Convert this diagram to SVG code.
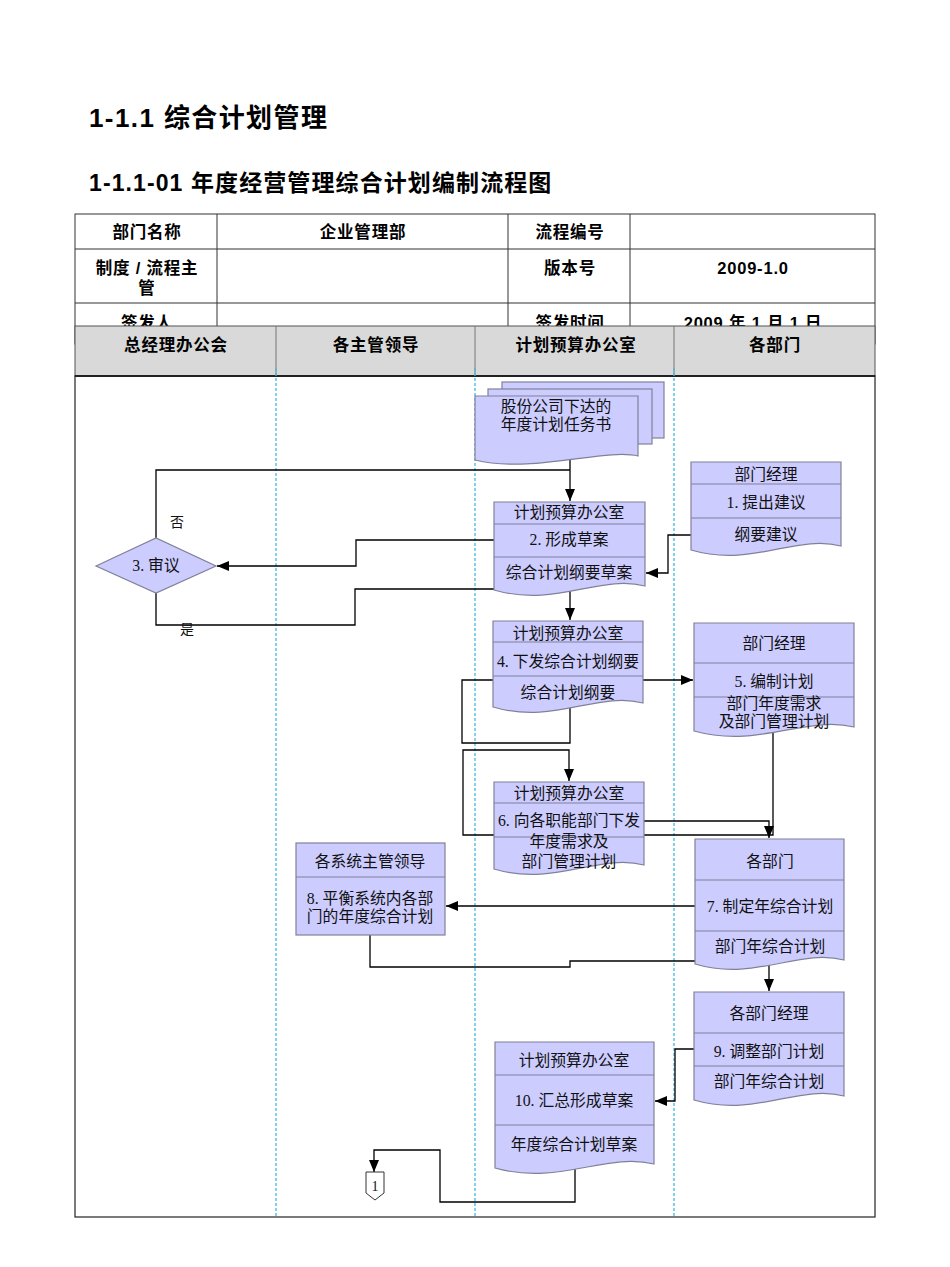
<svg xmlns="http://www.w3.org/2000/svg" width="950" height="1267" viewBox="0 0 950 1267">
<style>
.title{font-family:"Liberation Sans","Noto Sans CJK SC",sans-serif;font-weight:bold;fill:#000}
.tbl{font-family:"Liberation Sans","Noto Sans CJK SC",sans-serif;font-weight:bold;font-size:16.5px;letter-spacing:0.8px;fill:#000;text-anchor:middle}
.cell{fill:#fff;stroke:#333;stroke-width:1}
.box{fill:#ccccff;stroke:#80809a;stroke-width:1.2}
.sep{fill:none;stroke:#80809a;stroke-width:1.2}
.t{font-family:"Liberation Serif","Noto Sans CJK SC",serif;font-size:15.8px;fill:#111;text-anchor:middle}
.lbl{font-family:"Liberation Serif","Noto Sans CJK SC",serif;font-size:14px;fill:#111;text-anchor:middle}
.lane{stroke:#44bbe0;stroke-width:1.3;stroke-dasharray:3 2;fill:none}
.conn{fill:none;stroke:#000;stroke-width:1.3}
.arr{fill:none;stroke:#000;stroke-width:1.3;marker-end:url(#ah)}
</style>
<defs>
<marker id="ah" markerUnits="userSpaceOnUse" markerWidth="12" markerHeight="10" refX="12" refY="5" orient="auto">
<path d="M0,0 L12,5 L0,10 z" fill="#000"/>
</marker>
</defs>
<rect x="0" y="0" width="950" height="1267" fill="#fff"/>

<text class="title" x="89" y="127" font-size="26" letter-spacing="1.4">1-1.1 综合计划管理</text>
<text class="title" x="89" y="191" font-size="23" letter-spacing="1.1">1-1.1-01 年度经营管理综合计划编制流程图</text>

<g id="info-table">
<rect class="cell" x="75" y="214" width="800" height="130"/>
<line x1="75" y1="249" x2="875" y2="249" stroke="#333"/>
<line x1="75" y1="303" x2="875" y2="303" stroke="#333"/>
<line x1="217" y1="214" x2="217" y2="344" stroke="#333"/>
<line x1="508" y1="214" x2="508" y2="344" stroke="#333"/>
<line x1="630" y1="214" x2="630" y2="344" stroke="#333"/>
<text class="tbl" x="147" y="238">部门名称</text>
<text class="tbl" x="363" y="238">企业管理部</text>
<text class="tbl" x="570" y="238">流程编号</text>
<text class="tbl" x="147" y="274">制度 / 流程主</text>
<text class="tbl" x="147" y="294">管</text>
<text class="tbl" x="570" y="274">版本号</text>
<text class="tbl" x="753" y="274">2009-1.0</text>
<text class="tbl" x="147" y="329">签发人</text>
<text class="tbl" x="570" y="329">签发时间</text>
<text class="tbl" x="753" y="329">2009 年 1 月 1 日</text>
</g>

<g id="pool">
<rect x="75" y="326" width="800" height="50" fill="#d9d9d9" stroke="#555" stroke-width="1"/>
<line x1="276" y1="326" x2="276" y2="376" stroke="#777"/>
<line x1="475" y1="326" x2="475" y2="376" stroke="#777"/>
<line x1="674" y1="326" x2="674" y2="376" stroke="#777"/>
<text class="tbl" x="176" y="351">总经理办公会</text>
<text class="tbl" x="376" y="351">各主管领导</text>
<text class="tbl" x="576" y="351">计划预算办公室</text>
<text class="tbl" x="775" y="351">各部门</text>
<rect x="75" y="376" width="800" height="841" fill="none" stroke="#222" stroke-width="1.2"/>
<line x1="75" y1="376" x2="875" y2="376" stroke="#222" stroke-width="2.2"/>
<line class="lane" x1="276" y1="368" x2="276" y2="1216"/>
<line class="lane" x1="475" y1="368" x2="475" y2="1216"/>
<line class="lane" x1="674" y1="368" x2="674" y2="1216"/>
</g>

<g id="connectors">
<path class="arr" d="M570,458 V501"/>
<path class="conn" d="M156,538 V470 H570"/>
<path class="arr" d="M691,535 H668 V573 H646"/>
<path class="arr" d="M494,540 H356 V566 H217"/>
<path class="arr" d="M156,593 V625 H355 V589 H570 V620"/>
<path class="arr" d="M570,708 V743 H462 V680 H693"/>
<path class="arr" d="M773,731 V835 H463 V750 H569 V781"/>
<path class="arr" d="M644,821 H769 V838"/>
<path class="arr" d="M695,906 H446"/>
<path class="arr" d="M370,935 V967 H570 V961 H769 V991"/>
<path class="arr" d="M694,1049 H675 V1101 H655"/>
<path class="arr" d="M575,1166 V1202 H440 V1150 H374 V1172"/>
</g>

<g id="node-doc">
<rect class="box" x="502" y="382" width="162" height="56"/>
<rect class="box" x="488" y="389" width="164" height="55"/>
<path class="box" d="M475,396 H638 V456 C605,448 532,474 475,460 Z"/>
<text class="t" x="556" y="412">股份公司下达的</text>
<text class="t" x="556" y="430">年度计划任务书</text>
</g>

<g id="node-1">
<path class="box" d="M691,462 H841 V546 C796,534 752,568 691,550 Z"/>
<line class="sep" x1="691" y1="484" x2="841" y2="484"/>
<line class="sep" x1="691" y1="518" x2="841" y2="518"/>
<text class="t" x="766" y="480">部门经理</text>
<text class="t" x="766" y="508">1. 提出建议</text>
<text class="t" x="766" y="540">纲要建议</text>
</g>

<g id="node-2">
<path class="box" d="M494,502 H645 V586 C600,574 556,608 494,590 Z"/>
<line class="sep" x1="494" y1="524" x2="645" y2="524"/>
<line class="sep" x1="494" y1="557" x2="645" y2="557"/>
<text class="t" x="569" y="518">计划预算办公室</text>
<text class="t" x="569" y="545">2. 形成草案</text>
<text class="t" x="569" y="578">综合计划纲要草案</text>
</g>

<g id="node-3">
<polygon class="box" points="96,566 156,538 216,566 156,593"/>
<text class="t" x="156" y="571">3. 审议</text>
<text class="lbl" x="177" y="527">否</text>
<text class="lbl" x="187" y="634">是</text>
</g>

<g id="node-4">
<path class="box" d="M493,621 H643 V703 C598,691 554,725 493,707 Z"/>
<line class="sep" x1="493" y1="642" x2="643" y2="642"/>
<line class="sep" x1="493" y1="676" x2="643" y2="676"/>
<text class="t" x="568" y="639">计划预算办公室</text>
<text class="t" x="568" y="667">4. 下发综合计划纲要</text>
<text class="t" x="568" y="698">综合计划纲要</text>
</g>

<g id="node-5">
<path class="box" d="M694,623 H854 V727 C806,715 759,749 694,731 Z"/>
<line class="sep" x1="694" y1="663" x2="854" y2="663"/>
<line class="sep" x1="694" y1="697" x2="854" y2="697"/>
<text class="t" x="774" y="649">部门经理</text>
<text class="t" x="774" y="687">5. 编制计划</text>
<text class="t" x="774" y="709">部门年度需求</text>
<text class="t" x="774" y="727">及部门管理计划</text>
</g>

<g id="node-6">
<path class="box" d="M494,782 H644 V865 C599,853 555,887 494,869 Z"/>
<line class="sep" x1="494" y1="803" x2="644" y2="803"/>
<line class="sep" x1="494" y1="837" x2="644" y2="837"/>
<text class="t" x="569" y="799">计划预算办公室</text>
<text class="t" x="569" y="826">6. 向各职能部门下发</text>
<text class="t" x="569" y="847">年度需求及</text>
<text class="t" x="569" y="867">部门管理计划</text>
</g>

<g id="node-7">
<path class="box" d="M695,839 H844 V960 C799,948 755,982 695,964 Z"/>
<line class="sep" x1="695" y1="880" x2="844" y2="880"/>
<line class="sep" x1="695" y1="931" x2="844" y2="931"/>
<text class="t" x="770" y="867">各部门</text>
<text class="t" x="770" y="912">7. 制定年综合计划</text>
<text class="t" x="770" y="952">部门年综合计划</text>
</g>

<g id="node-8">
<rect class="box" x="296" y="843" width="149" height="92"/>
<line class="sep" x1="296" y1="877" x2="445" y2="877"/>
<text class="t" x="370" y="867">各系统主管领导</text>
<text class="t" x="370" y="904">8. 平衡系统内各部</text>
<text class="t" x="370" y="922">门的年度综合计划</text>
</g>

<g id="node-9">
<path class="box" d="M694,992 H844 V1096 C799,1084 755,1118 694,1100 Z"/>
<line class="sep" x1="694" y1="1033" x2="844" y2="1033"/>
<line class="sep" x1="694" y1="1066" x2="844" y2="1066"/>
<text class="t" x="769" y="1019">各部门经理</text>
<text class="t" x="769" y="1057">9. 调整部门计划</text>
<text class="t" x="769" y="1087">部门年综合计划</text>
</g>

<g id="node-10">
<path class="box" d="M495,1042 H654 V1164 C606,1152 559,1186 495,1168 Z"/>
<line class="sep" x1="495" y1="1075" x2="654" y2="1075"/>
<line class="sep" x1="495" y1="1125" x2="654" y2="1125"/>
<text class="t" x="574" y="1066">计划预算办公室</text>
<text class="t" x="574" y="1106">10. 汇总形成草案</text>
<text class="t" x="574" y="1150">年度综合计划草案</text>
</g>

<g id="node-offpage">
<polygon points="366,1172 384,1172 384,1193 375,1200 366,1193" fill="#fff" stroke="#333" stroke-width="1"/>
<text class="lbl" x="375" y="1191" font-size="13">1</text>
</g>
</svg>
